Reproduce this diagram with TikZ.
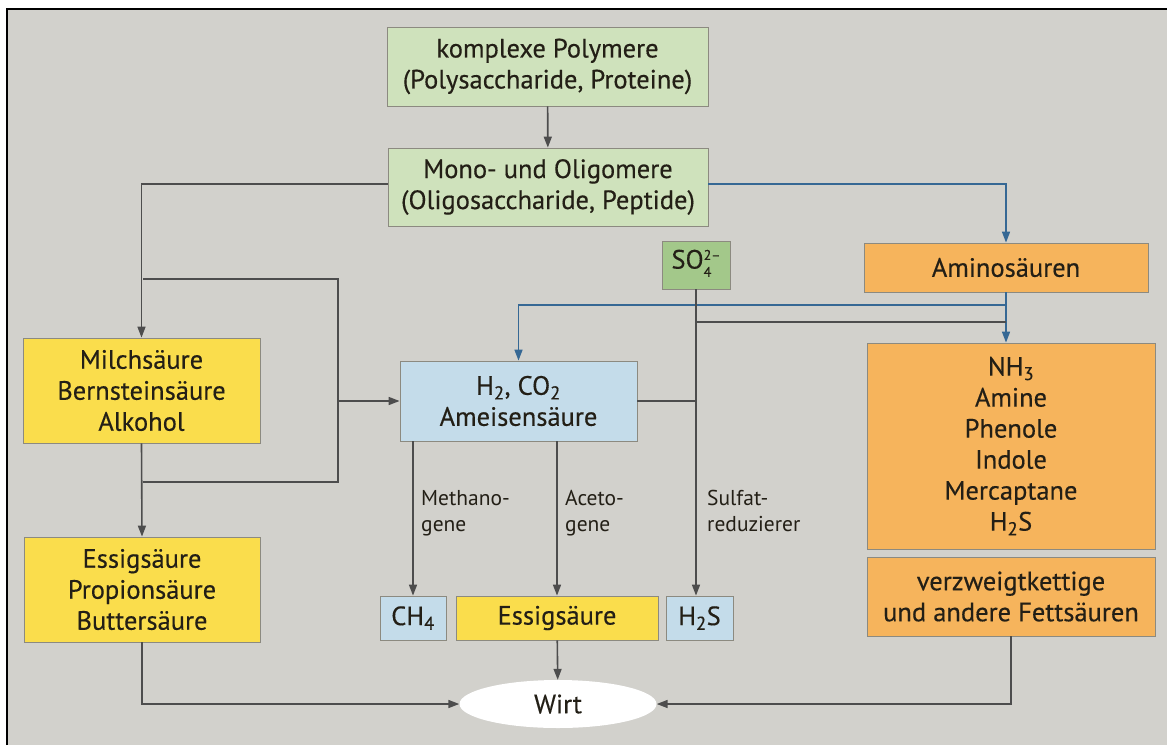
\documentclass[tikz,border=0pt]{standalone}
\usepackage{fontspec}
\setmainfont{PT Sans}
\newfontfamily\boxfont{PT Sans}[FakeBold=0.35]
\usepackage{xcolor}
\usepackage{tikz}
\usetikzlibrary{positioning, arrows.meta, shapes.geometric}
\definecolor{paper}{HTML}{D2D1CC}
\definecolor{polygreen}{HTML}{CFE2BC}
\definecolor{sulfgreen}{HTML}{A3C88A}
\definecolor{acidyellow}{HTML}{FADD4C}
\definecolor{gasblue}{HTML}{C4DCEA}
\definecolor{aminoorange}{HTML}{F6B45C}
\definecolor{edgegray}{HTML}{8C8A80}
\definecolor{flowgray}{HTML}{4D4D4D}
\definecolor{flowblue}{HTML}{366894}
\definecolor{ink}{HTML}{231F16}

\tikzset{
  box/.style={draw=edgegray, line width=0.8pt, inner sep=0pt, align=center,
    text=ink, font=\boxfont\fontsize{26.5}{31}\selectfont},
  flow/.style={draw=flowgray, line width=1.6pt},
  bflow/.style={draw=flowblue, line width=1.6pt},
  tip/.style={-{Triangle[length=11pt,width=8pt]}},
  microbe/.style={anchor=north west, inner sep=0pt, align=left, text=ink,
    font=\fontsize{21.5}{26}\selectfont},
}

\begin{document}
\begin{tikzpicture}[x=1pt, y=-1pt]
  \useasboundingbox (0,0) rectangle (1167,745);
  \fill[white] (0,0) rectangle (1167,745);
  \fill[paper] (6,8) rectangle (1167,745);
  \draw[line width=2pt] (7,745) -- (7,9) -- (1167,9);

  % substrates
  \node[box, fill=polygreen, minimum width=321, minimum height=79] (poly) at (547.5,66.5)
    {komplexe Polymere\\(Polysaccharide, Proteine)};
  \node[box, fill=polygreen, minimum width=320, minimum height=78] (mono) at (548,187)
    {Mono- und Oligomere\\(Oligosaccharide, Peptide)};
  \node[box, fill=sulfgreen, minimum width=68, minimum height=48] (so4) at (696,265)
    {SO{\fontsize{14}{17}\selectfont\begin{tabular}[c]{@{}l@{}}2–\\4\end{tabular}}};
  \node[box, fill=aminoorange, minimum width=284, minimum height=49] (amino) at (1006,267.5)
    {Aminosäuren};

  % intermediates
  \node[box, fill=acidyellow, minimum width=237, minimum height=105] (milch) at (141.5,390.5)
    {Milchsäure\\Bernsteinsäure\\Alkohol};
  \node[box, fill=gasblue, minimum width=237, minimum height=80] (h2) at (518.5,401)
    {H\textsubscript{2}, CO\textsubscript{2}\\Ameisensäure};
  \node[box, fill=aminoorange, minimum width=288, minimum height=206] (nh3) at (1011,446)
    {NH\textsubscript{3}\\Amine\\Phenole\\Indole\\Mercaptane\\H\textsubscript{2}S};

  % products
  \node[box, fill=acidyellow, minimum width=236, minimum height=105] (essig) at (142,589.5)
    {Essigsäure\\Propionsäure\\Buttersäure};
  \node[box, fill=gasblue, minimum width=66, minimum height=44] (ch4) at (413,618)
    {CH\textsubscript{4}};
  \node[box, fill=acidyellow, minimum width=202, minimum height=44] (essigm) at (557,618)
    {Essigsäure};
  \node[box, fill=gasblue, minimum width=67, minimum height=44] (h2s) at (699.5,618)
    {H\textsubscript{2}S};
  \node[box, fill=aminoorange, minimum width=288, minimum height=79] (fett) at (1011,596.5)
    {verzweigtkettige\\und andere Fettsäuren};
  \node[ellipse, fill=white, inner sep=0pt, minimum width=197, minimum height=48,
        text=ink, font=\boxfont\fontsize{26.5}{31}\selectfont] (wirt) at (558,704) {Wirt};

  % microbe labels
  \node[microbe] (methano) at (421,490) {Methano-\\gene};
  \node[microbe] (aceto) at (565,490) {Aceto-\\gene};
  \node[microbe] (sulfat) at (707,490) {Sulfat-\\reduzierer};

  % connectors
  \coordinate (split1) at (1006,305);
  \coordinate (split2) at (1006,322);
  \coordinate (loopin) at (143,279);
  \coordinate (loopout) at (143,482);
  \coordinate (join) at (338,401);

  \draw[flow, tip] (poly) -- (mono);
  \draw[flow, tip] ([yshift=3pt]mono.west) -| (milch.north);
  \draw[bflow, tip] ([yshift=3pt]mono.east) -| (amino.north);
  \draw[bflow, tip] (amino.south) -- (amino.south |- nh3.north);
  \draw[bflow, tip] (split1) -| (h2.north);
  \draw[flow] (split2) -- (split2 -| so4.south);
  \draw[flow, tip] (so4.south) -- (so4.south |- h2s.north);
  \draw[flow] (h2.east) -- (h2.east -| so4.south);
  \draw[flow] (loopin) -| (join) |- (loopout);
  \draw[flow, tip] (join) -- (h2.west);
  \draw[flow, tip] (milch.south) -- (essig.north);
  \draw[flow, tip] (h2.south -| ch4.north) -- (ch4.north);
  \draw[flow, tip] (h2.south -| essigm.north) -- (essigm.north);
  \draw[flow, tip] (essigm) -- (wirt);
  \draw[flow, tip] (essig.south) |- (wirt.west);
  \draw[flow, tip] (fett.south) |- (wirt.east);
\end{tikzpicture}
\end{document}
